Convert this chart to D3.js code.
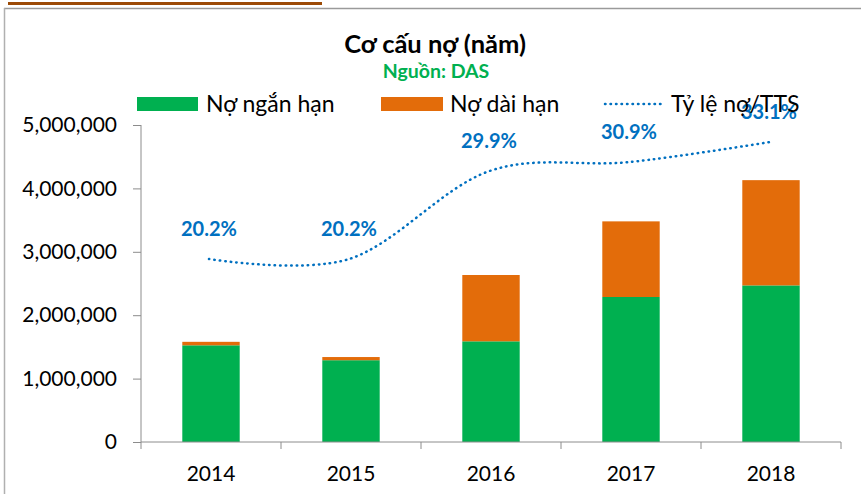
<!DOCTYPE html>
<html>
<head>
<meta charset="utf-8">
<script src="https://cdn.jsdelivr.net/npm/d3@7"></script>
<style>
  html, body { margin: 0; padding: 0; background: #fff; }
  svg { display: block; }
  text { font-family: Lato, "Open Sans", sans-serif; }
</style>
</head>
<body>
<svg id="chart" width="861" height="494"></svg>
<script>
const years = ["2014", "2015", "2016", "2017", "2018"];
const shortTerm = [1525000, 1290000, 1588000, 2287000, 2470000];
const longTerm = [55000, 50000, 1046000, 1193000, 1660000];
const debtRatio = [20.2, 20.2, 29.9, 30.9, 33.1];
const yTicks = [0, 1000000, 2000000, 3000000, 4000000, 5000000];
const seriesNames = ["Nợ ngắn hạn", "Nợ dài hạn", "Tỷ lệ nợ/TTS"];
const title = "Cơ cấu nợ (năm)";
const subtitle = "Nguồn: DAS";

const colors = { short: "#00B050", long: "#E36C0A", line: "#0070C0" };

const svg = d3.select("#chart");

// decorative frame
svg.append("rect").attr("x", 8).attr("y", 2).attr("width", 314).attr("height", 3).attr("fill", "#9C4A06");
svg.append("line").attr("x1", 4).attr("x2", 861).attr("y1", 8.5).attr("y2", 8.5).attr("stroke", "#9a9a9a").attr("stroke-width", 1.5);
svg.append("line").attr("x1", 4.5).attr("x2", 4.5).attr("y1", 8).attr("y2", 494).attr("stroke", "#b0b0b0").attr("stroke-width", 1.5);

const x = d3.scaleBand().domain(years).range([141, 841]).paddingInner(0.59).paddingOuter(0.295);
const y = d3.scaleLinear().domain([0, 5000000]).range([442, 125]);
const y2 = d3.scaleLinear().domain([0, 35]).range([442, 125]);

// bars
const stackData = years.map((yr, i) => ({ year: yr, short: shortTerm[i], long: longTerm[i] }));
const stack = d3.stack().keys(["short", "long"])(stackData);
svg.append("g").selectAll("g").data(stack).join("g")
  .attr("fill", d => colors[d.key])
  .selectAll("rect").data(d => d).join("rect")
  .attr("x", d => x(d.data.year))
  .attr("width", x.bandwidth())
  .attr("y", d => y(d[1]))
  .attr("height", d => y(d[0]) - y(d[1]));

// y axis
const yAxis = svg.append("g").attr("transform", "translate(141,0)")
  .call(d3.axisLeft(y).tickValues(yTicks).tickFormat(d3.format(",")).tickSize(8).tickPadding(16));
yAxis.select(".domain").attr("stroke", "#8c8c8c").attr("d", "M0,442V125");
yAxis.selectAll(".tick line").attr("stroke", "#8c8c8c");
yAxis.selectAll("text").attr("font-size", 21).attr("fill", "#000").attr("font-family", "Lato, sans-serif");

// x axis
const xAxis = svg.append("g").attr("transform", "translate(0,442)")
  .call(d3.axisBottom(x).tickSize(0).tickPadding(24));
xAxis.select(".domain").attr("stroke", "#8c8c8c").attr("d", "M141,0H841");
xAxis.selectAll("text").attr("font-size", 21).attr("fill", "#000").attr("font-family", "Lato, sans-serif");
const bounds = d3.range(years.length + 1).map(i => 141 + i * x.step());
xAxis.selectAll(".bound").data(bounds).join("line").attr("class", "bound")
  .attr("x1", d => d).attr("x2", d => d).attr("y1", 0).attr("y2", 7).attr("stroke", "#8c8c8c");

// ratio line
const pts = years.map((yr, i) => [x(yr) + x.bandwidth() / 2 - 2, y2(debtRatio[i])]);
svg.append("path").datum(pts)
  .attr("d", d3.line().curve(d3.curveCardinal.tension(0)))
  .attr("fill", "none").attr("stroke", colors.line).attr("stroke-width", 2.5)
  .attr("stroke-linecap", "round")
  .attr("stroke-dasharray", "0.5,5");

svg.append("g").selectAll("text").data(pts).join("text")
  .attr("x", d => d[0]).attr("y", d => d[1] - 23)
  .attr("text-anchor", "middle").attr("font-size", 20).attr("font-weight", "bold")
  .attr("fill", colors.line)
  .text((d, i) => debtRatio[i].toFixed(1) + "%");

// title
svg.append("text").attr("x", 435).attr("y", 53).attr("text-anchor", "middle")
  .attr("font-size", 25.5).attr("font-weight", "bold").attr("fill", "#000").text(title);
svg.append("text").attr("x", 436).attr("y", 78).attr("text-anchor", "middle")
  .attr("font-size", 19.5).attr("font-weight", "bold").attr("fill", colors.short).text(subtitle);

// legend
const lg = svg.append("g");
lg.append("rect").attr("x", 137).attr("y", 97).attr("width", 61).attr("height", 14).attr("fill", colors.short);
lg.append("text").attr("x", 206).attr("y", 112).attr("font-size", 23).text(seriesNames[0]);
lg.append("rect").attr("x", 381).attr("y", 97).attr("width", 62).attr("height", 14).attr("fill", colors.long);
lg.append("text").attr("x", 450).attr("y", 112).attr("font-size", 23).text(seriesNames[1]);
lg.append("line").attr("x1", 605).attr("x2", 663).attr("y1", 104).attr("y2", 104)
  .attr("stroke", colors.line).attr("stroke-width", 2.5).attr("stroke-linecap", "round")
  .attr("stroke-dasharray", "0.5,5");
lg.append("text").attr("x", 671).attr("y", 112).attr("font-size", 23).text(seriesNames[2]);
</script>
</body>
</html>
